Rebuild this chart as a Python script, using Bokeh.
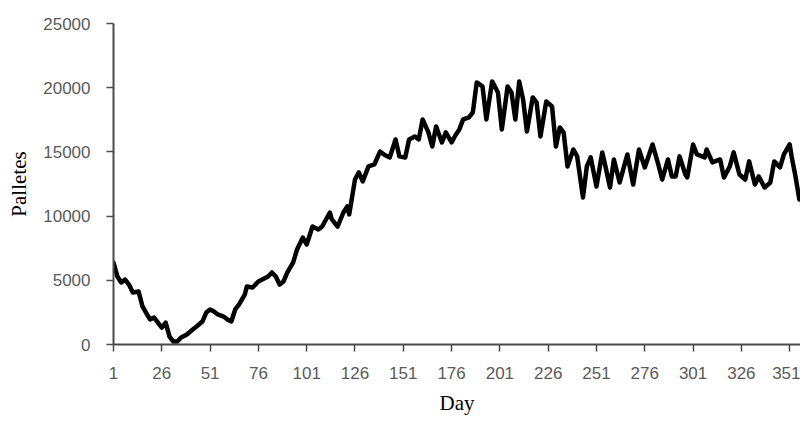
from bokeh.plotting import figure
from bokeh.models import Range1d, FixedTicker, BasicTickFormatter
from bokeh.embed import file_html
from bokeh.resources import INLINE

# Daily pallet stock
days = [1, 3, 5, 7, 9, 11, 14, 16, 19, 20, 22, 24, 26, 28, 30, 32, 34, 36, 39, 42,
        44, 47, 49, 51, 53, 55, 58, 60, 62, 64, 66, 69, 70, 73, 76, 78, 81, 83, 85, 87,
        89, 91, 94, 96, 99, 101, 104, 107, 109, 113, 114, 117, 120, 122, 123, 126, 128, 130, 133, 136,
        139, 141, 144, 147, 149, 152, 154, 157, 159, 161, 164, 166, 168, 171, 173, 176, 178, 180, 182, 185,
        187, 189, 192, 194, 197, 200, 202, 205, 207, 209, 211, 213, 215, 218, 220, 222, 225, 228, 230, 232,
        234, 236, 239, 241, 244, 246, 248, 251, 254, 256, 258, 260, 263, 267, 270, 273, 276, 280, 283, 285,
        288, 290, 292, 294, 297, 298, 301, 303, 307, 308, 311, 315, 317, 320, 322, 325, 328, 330, 333, 335,
        338, 341, 343, 346, 348, 351, 352, 354, 356, 359, 360]
pallets = [6380, 5300, 4830, 5060, 4670, 4050, 4130, 2960, 2180, 1950, 2100, 1710, 1320, 1710, 620, 230, 230, 550, 780, 1170,
           1400, 1790, 2490, 2730, 2570, 2340, 2180, 1950, 1790, 2730, 3120, 3900, 4520, 4440, 4910, 5060, 5300, 5610, 5300, 4670,
           4910, 5610, 6390, 7400, 8330, 7790, 9190, 8960, 9190, 10280, 9740, 9190, 10280, 10750, 10130, 12850, 13400, 12700, 13870, 14020,
           15030, 14800, 14570, 15970, 14650, 14570, 15970, 16200, 15970, 17530, 16520, 15420, 16980, 15740, 16520, 15740, 16300, 16750, 17530, 17680,
           18070, 20410, 20100, 17530, 20490, 19630, 16750, 20100, 19630, 17530, 20490, 19090, 16590, 19240, 18850, 16200, 18930, 18540, 15420, 16900,
           16520, 13870, 15190, 14650, 11450, 13870, 14570, 12310, 14960, 13630, 12230, 14410, 12620, 14800, 12460, 15190, 13790, 15580, 14020, 12850,
           14410, 13090, 13090, 14650, 13240, 13010, 15580, 14800, 14570, 15190, 14180, 14410, 13010, 13870, 14960, 13240, 12850, 14260, 12460, 13090,
           12230, 12620, 14260, 13790, 14800, 15580, 14650, 13090, 11300, 11300, 11300]

x_ticks = [1, 26, 51, 76, 101, 126, 151, 176, 201, 226, 251, 276, 301, 326, 351]
y_ticks = [0, 5000, 10000, 15000, 20000, 25000]

p = figure(width=800, height=418, output_backend="svg", toolbar_location=None,
           x_range=Range1d(1, 356.6), y_range=Range1d(0, 25000),
           min_border_left=113, min_border_top=23, min_border_bottom=74, min_border_right=0)
p.outline_line_color = None
p.xgrid.visible = False
p.ygrid.visible = False
p.background_fill_color = "white"
p.border_fill_color = "white"

p.line(days, pallets, line_color="black", line_width=4.5, line_join="round", line_cap="round")

for ax in (p.xaxis[0], p.yaxis[0]):
    ax.axis_line_color = "#4a4a4a"
    ax.axis_line_width = 2
    ax.major_tick_line_color = "#4a4a4a"
    ax.major_tick_line_width = 1.5
    ax.major_tick_in = 0
    ax.major_tick_out = 7
    ax.minor_tick_line_color = None
    ax.major_label_text_font = "Liberation Sans"
    ax.major_label_text_font_size = "17px"
    ax.major_label_text_color = "#5a5a5a"
    ax.axis_label_text_font = "Liberation Serif"
    ax.axis_label_text_font_size = "21px"
    ax.axis_label_text_font_style = "normal"
    ax.axis_label_text_color = "black"

p.xaxis[0].ticker = FixedTicker(ticks=x_ticks)
p.yaxis[0].ticker = FixedTicker(ticks=y_ticks)
p.yaxis[0].formatter = BasicTickFormatter(use_scientific=False)
p.xaxis[0].axis_label = "Day"
p.yaxis[0].axis_label = "Palletes"
p.xaxis[0].major_label_standoff = 15
p.xaxis[0].axis_label_standoff = 9
p.yaxis[0].major_label_standoff = 16
p.yaxis[0].axis_label_standoff = 9

open("out.html", "w").write(file_html(p, INLINE))
